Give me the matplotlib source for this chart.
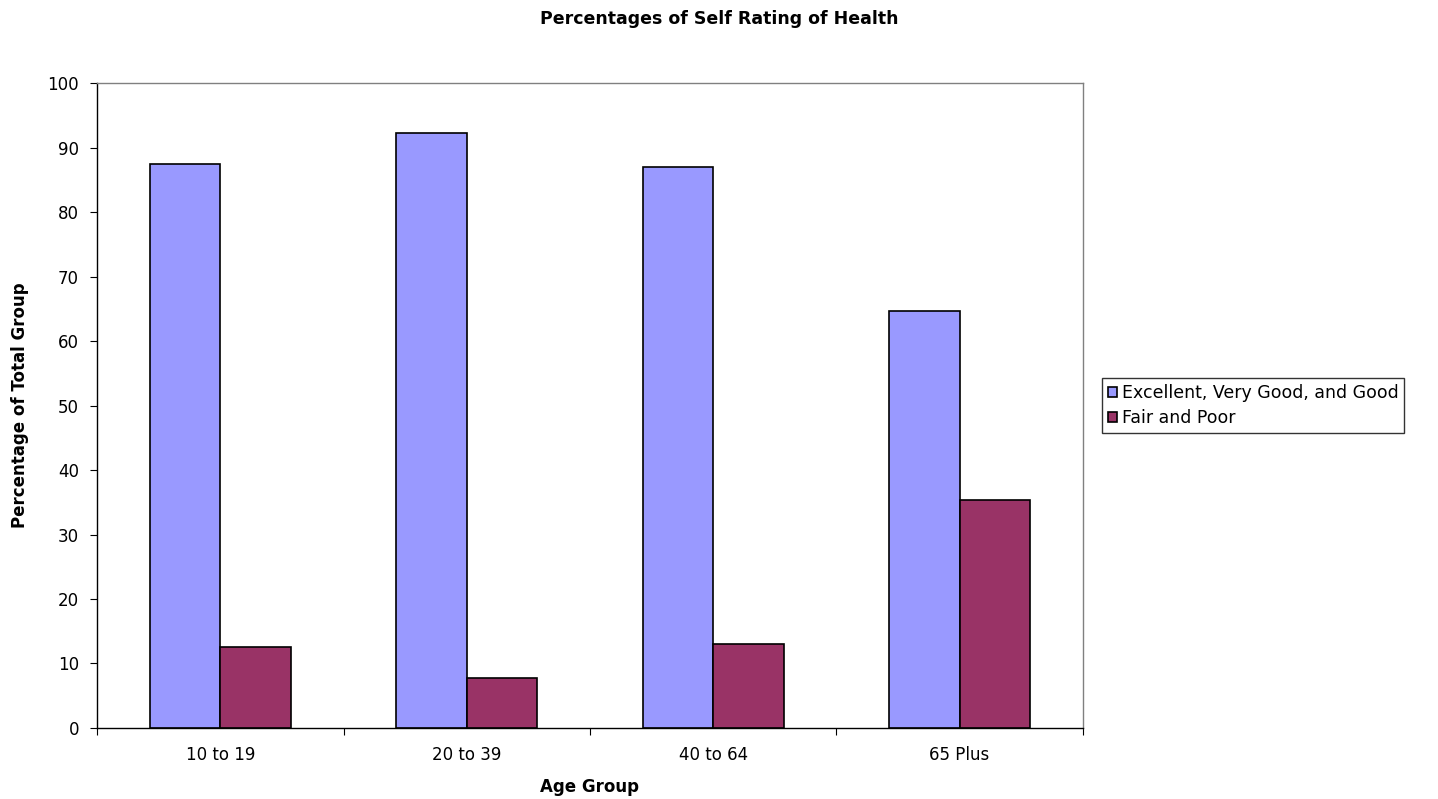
import numpy as np
import matplotlib.pyplot as plt

# data
age_groups = ["10 to 19", "20 to 39", "40 to 64", "65 Plus"]
good_pct = [87.5, 92.3, 87.0, 64.7]
poor_pct = [12.5, 7.7, 13.0, 35.3]
series_names = ["Excellent, Very Good, and Good", "Fair and Poor"]

COLORS = ["#9999FF", "#993366"]

plt.rcParams["font.family"] = ["DejaVu Sans"]

fig = plt.figure(figsize=(14.38, 7.99), dpi=100)
ax = fig.add_axes([0.0675, 0.0889, 0.6855, 0.807])

x = np.arange(len(age_groups))
w = 1 / 3.5  # excel-style 150% gap width

ax.bar(x - w / 2, good_pct, width=w, color=COLORS[0], edgecolor="black",
       linewidth=1.2, label=series_names[0])
ax.bar(x + w / 2, poor_pct, width=w, color=COLORS[1], edgecolor="black",
       linewidth=1.2, label=series_names[1])

ax.set_xlim(-0.5, len(age_groups) - 0.5)
ax.set_ylim(0, 100)
ax.set_yticks(np.arange(0, 101, 10))

# tick marks between groups, labels at the group centers
ax.set_xticks(np.arange(-0.5, len(age_groups)), minor=False)
ax.set_xticklabels([""] * (len(age_groups) + 1))
ax.set_xticks(x, minor=True)
ax.set_xticklabels(age_groups, minor=True)
ax.tick_params(axis="x", which="minor", length=0, pad=13, labelsize=12)
ax.tick_params(axis="x", which="major", length=5, direction="out", color="black")
ax.tick_params(axis="y", length=5, direction="out", labelsize=12, pad=8)

for side in ["left", "bottom"]:
    ax.spines[side].set_color("black")
    ax.spines[side].set_linewidth(1.0)
for side in ["top", "right"]:
    ax.spines[side].set_color("#808080")
    ax.spines[side].set_linewidth(1.0)

ax.set_xlabel("Age Group", fontsize=12, fontweight="bold", labelpad=10)
ax.set_ylabel("Percentage of Total Group", fontsize=12, fontweight="bold", labelpad=13)
fig.suptitle("Percentages of Self Rating of Health", x=0.5, y=0.987,
             fontsize=12.5, fontweight="bold")

leg = ax.legend(loc="center left", bbox_to_anchor=(1.019, 0.5), fontsize=12.5,
                frameon=True, fancybox=False, edgecolor="black",
                handlelength=0.55, handleheight=0.55, handletextpad=0.25,
                borderpad=0.35, labelspacing=0.4, borderaxespad=0)
leg.get_frame().set_linewidth(1.0)

fig.savefig("out.png", dpi=100)
